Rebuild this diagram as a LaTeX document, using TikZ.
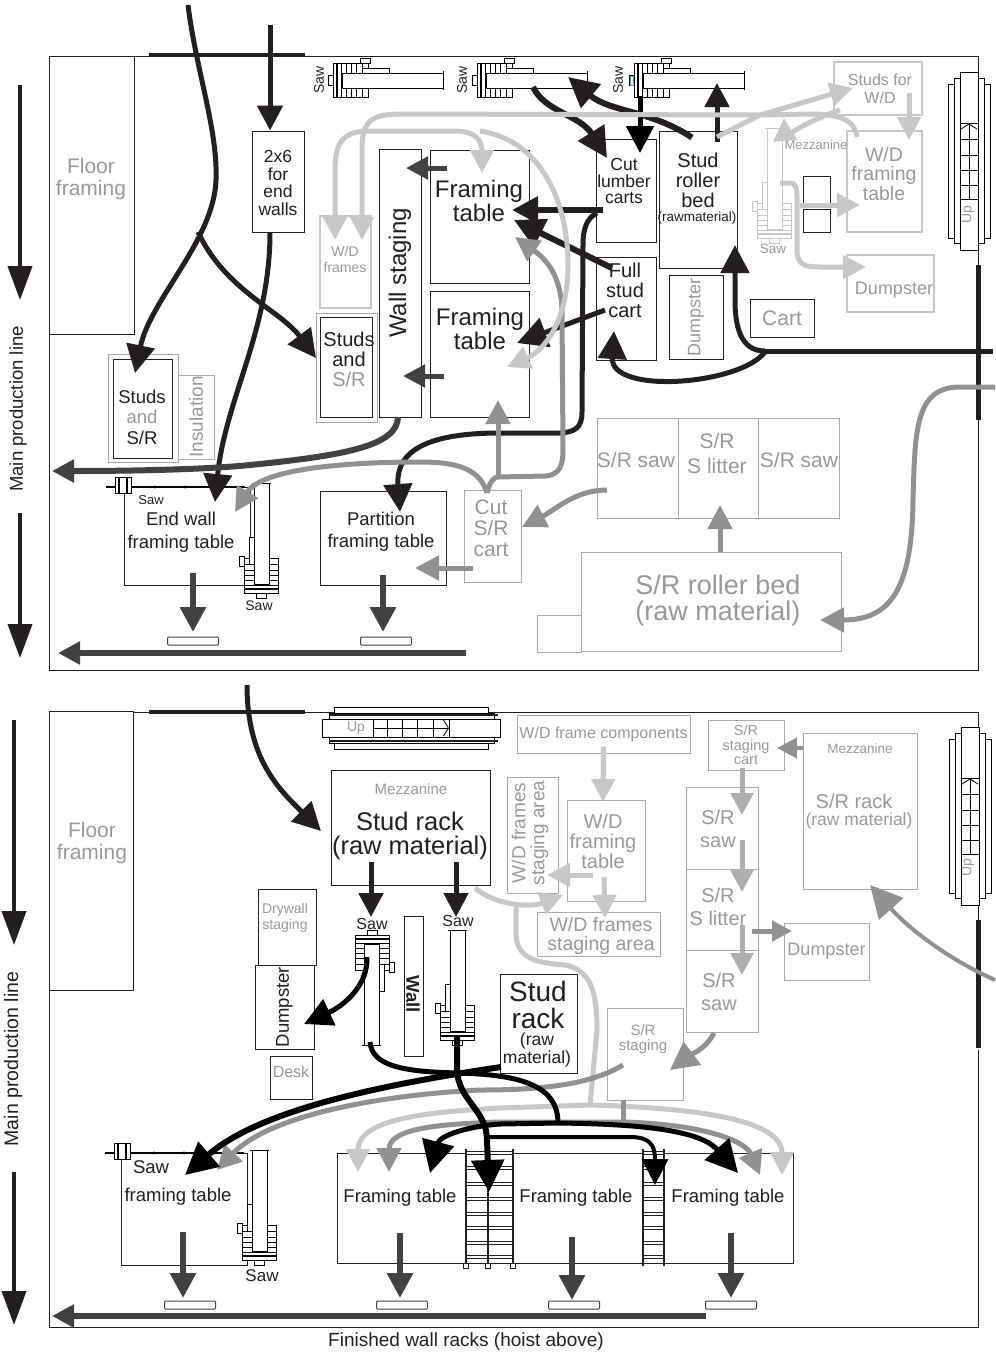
\documentclass[tikz,border=0pt]{standalone}
\usepackage{fontspec}
\setmainfont{Liberation Sans}
\usetikzlibrary{positioning,arrows.meta,calc}
\definecolor{blk}{HTML}{231F20}
\definecolor{drk}{HTML}{414042}
\definecolor{gry}{HTML}{939091}
\definecolor{lgt}{HTML}{C7C7C7}
\definecolor{txtgray}{HTML}{999999}
\definecolor{edge}{HTML}{A9A9A9}
\tikzset{
  wh/.style 2 args={minimum width=#1pt,minimum height=#2pt},
  fs/.style={font=\fontsize{#1}{#1}\selectfont},
  box/.style={draw=blk,line width=1pt,inner sep=0pt,align=center,text=blk,fill=white},
  graybox/.style={box,draw=edge,text=txtgray},
  lightbox/.style={box,draw=lgt,line width=1.2pt,text=txtgray},
  txt/.style={inner sep=0pt,align=center,text=blk},
  graytxt/.style={txt,text=txtgray},
  wallbar/.style={draw=drk,line width=1pt,fill=white,rounded corners=1pt,inner sep=0pt,minimum width=51pt,minimum height=8pt},
  frameline/.style={draw=blk,line width=1pt},
  flow/.style n args={3}{draw=#1,line width=#2pt,-{Triangle[length=#3pt,width=#3pt]}},
  blackflow/.style={flow={blk}{5}{28}},
  bigflow/.style={flow={black}{6}{32}},
  arcflow/.style={flow={black}{5}{32}},
  darkflow/.style={flow={drk}{6}{25}},
  grayflow/.style={flow={gry}{5}{24}},
  lightflow/.style={flow={lgt}{5}{23}},
  prodflow/.style={draw=blk,line width=4pt,-{Triangle[length=34pt,width=24pt]}},
  blackline/.style={draw=blk,line width=5pt},
  grayline/.style={draw=gry,line width=5pt},
  lightline/.style={draw=lgt,line width=5pt},
  sawicon/.pic={
    \draw[line width=.9pt,fill=white] (0,-17) rectangle (35,17);
    \draw[line width=2pt] (4,-17) -- (4,17);
    \foreach \sx in {8,13,18,23,29} \draw[line width=.9pt] (\sx,-17) -- (\sx,17);
    \draw[line width=.9pt,fill=white] (-5,-5) rectangle (0,5);
    \draw[line width=.9pt,fill=white] (29,-12) rectangle (56,-7);
    \draw[line width=.9pt,fill=white] (27,-22) rectangle (37,-17);
    \draw[line width=.9pt,fill=white] (9,-7) rectangle (110,8);
    \draw[line width=.9pt] (110,-9) -- (110,10);
  },
  sawflat/.pic={
    \draw[line width=2.4pt] (-9,0) -- (130,0);
    \draw[line width=.8pt,fill=white] (0,-10) rectangle (16,6);
    \draw[line width=1.6pt] (4,-10) -- (4,6) (12,-10) -- (12,6);
    \foreach \sx in {40,70,100} \fill (\sx,0) circle (1.6pt);
  },
  stairs/.pic={
    \draw[line width=1pt,fill=white] (-21,-77) rectangle (21,77);
    \draw[line width=1pt,fill=white] (-15,-83) rectangle (15,82);
    \draw[line width=1pt,fill=white] (-9,-89) rectangle (9,89);
    \foreach \sy in {-22,-6,9,24,38} \draw[line width=.8pt] (-9,\sy) -- (9,\sy);
    \draw[line width=.8pt] (-9,-38) -- (9,-38) (0,-37) -- (0,38);
    \draw[line width=.8pt] (-8,-32) -- (0,-37) -- (8,-32);
  },
  rung/.style={draw=blk,line width=.9pt,double=white,double distance=1.7pt},
}
\begin{document}
\begin{tikzpicture}[x=1pt,y=-1pt]
  \useasboundingbox (0,0) rectangle (996,1353);

  % upper floor outline
  \draw[frameline] (978,420) -- (978,670) -- (49,670) -- (49,56) -- (978,56) -- (978,72);
  \draw[frameline] (978,250) -- (978,265);
  \draw[blackline] (978,265) -- (978,420);
  \draw[draw=blk,line width=4pt] (149,55) -- (305,55);

  % upper floor, boxes
  \node[graybox,draw=blk,wh={85}{278}] (floorA) at (91.5,195) {};
  \node[graytxt,fs=21] (floorAtxt) at (91,179) {Floor\\[1pt]framing};
  \node[box,fs=17.5,wh={52}{101}] (twobysix) at (278,181.5) {};
  \node[txt,fs=17.5] (twobysixtxt) at (278,183) {2x6\\for\\end\\walls};
  \node[lightbox,wh={51}{92}] (frameW) at (345.5,262) {};
  \node[graytxt,fs=14] (frameWtxt) at (345,259) {W/D\\[2pt]frames};
  \node[graybox,draw=blk,wh={42}{268}] (staging) at (400,283) {};
  \node[txt,fs=24,rotate=90] (stagingtxt) at (400,273) {Wall staging};
  \node[box,wh={99}{133}] (tableA) at (479.5,216.5) {};
  \node[txt,fs=24] (tableAtxt) at (479,201) {Framing\\table};
  \node[box,wh={99}{126}] (tableB) at (479.5,354) {};
  \node[txt,fs=24] (tableBtxt) at (480,329) {Framing\\table};
  \node[box,wh={60}{103}] (cutcart) at (626,190.5) {};
  \node[txt,fs=17.5] (cutcarttxt) at (624,181) {Cut\\[-1pt]lumber\\[-1pt]carts};
  \node[box,wh={78}{137}] (rollerA) at (698,199.5) {};
  \node[txt,fs=20] (rollerAtxt) at (698,180) {Stud\\roller\\bed};
  \node[txt,fs=13.5] (rollerAraw) at (697,218) {(rawmaterial)};
  \node[box,wh={60}{103}] (fullcart) at (626,308.5) {};
  \node[txt,fs=20] (fullcarttxt) at (625,290) {Full\\stud\\cart};
  \node[graybox,draw=blk,fs=18,wh={54}{84}] (dumpA) at (696,317) {\rotatebox{90}{Dumpster}};
  \node[graybox,draw=blk,fs=21,wh={64}{38}] (cartA) at (782,318) {Cart};
  \node[draw=edge,line width=1pt,wh={61}{109},inner sep=0pt] (studsBout) at (346.5,367.5) {};
  \node[graybox,draw=blk,wh={52}{100}] (studsB) at (346,367) {};
  \node[txt,fs=20] (studsBtxt) at (349,359) {Studs\\and\\\textcolor{txtgray}{S/R}};
  \node[draw=edge,line width=1pt,wh={70}{108},inner sep=0pt] (studsAout) at (143,408) {};
  \node[box,wh={59}{99}] (studsA) at (142.5,408.5) {};
  \node[txt,fs=18.5,text=txtgray] (studsAtxt) at (142,417) {\textcolor{blk}{Studs}\\[2pt]and\\[2pt]\textcolor{blk}{S/R}};
  \node[graybox,fs=19,wh={36}{84}] (insul) at (196,417) {\rotatebox{90}{Insulation}};
  \node[lightbox,wh={88}{53}] (studsW) at (878,88.5) {};
  \node[graytxt,fs=16] (studsWtxt) at (880,89) {Studs for\\[2pt]W/D};
  \node[lightbox,wh={75}{101}] (tableW) at (884.5,181.5) {};
  \node[graytxt,fs=19.5] (tableWtxt) at (884,174) {W/D\\framing\\table};
  \node[lightbox,wh={87}{57}] (dumpB) at (890.5,283.5) {};
  \node[graytxt,fs=18] (dumpBtxt) at (894,290) {Dumpster};
  \node[box,wh={27}{27}] (blockA) at (816.5,189.5) {};
  \node[box,wh={27}{23}] (blockB) at (816.5,220.5) {};
  \node[graybox,wh={81}{100}] (sawA) at (637.5,468) {};
  \node[graytxt,fs=21] (sawAtxt) at (636,460) {S/R saw};
  \node[graybox,wh={80}{100}] (litterA) at (718,468) {};
  \node[graytxt,fs=21] (litterAtxt) at (717,453) {S/R\\[4pt]S litter};
  \node[graybox,wh={81}{100}] (sawB) at (798.5,468) {};
  \node[graytxt,fs=21] (sawBtxt) at (799,460) {S/R saw};
  \node[graybox,wh={260}{99}] (rollerB) at (711,601.5) {};
  \node[graytxt,fs=27] (rollerBtxt) at (718,601) {S/R roller bed\\[-1pt](raw material)};
  \node[graybox,wh={44}{37}] (spareA) at (559,633.5) {};
  \node[graybox,wh={57}{92}] (cutSR) at (492.5,536) {};
  \node[graytxt,fs=21] (cutSRtxt) at (491,528) {Cut\\S/R\\cart};
  \node[box,wh={126}{98}] (endtableA) at (187,536) {};
  \node[txt,fs=18.5] (endtableAtxt) at (181,532) {End wall\\[4pt]framing table};
  \node[box,wh={126}{94}] (partition) at (383,538) {};
  \node[txt,fs=18.5] (partitiontxt) at (381,531.5) {Partition\\[4pt]framing table};
  \node[wallbar] (wallA) at (193,641) {};
  \node[wallbar] (wallB) at (386,641) {};

  % upper floor, saws and stairs
  \pic at (333,80) {sawicon};
  \pic at (477,80) {sawicon};
  \pic at (634,80) {sawicon};
  \draw[draw=teal!70,line width=1pt] (630,76) rectangle (633,85);
  \pic at (261,593) [rotate=90] {sawicon};
  \pic at (115,487) {sawflat};
  \pic[color=lgt] at (774,238) [rotate=90] {sawicon};
  \pic at (969,161) {stairs};
  \node[txt,fs=14,rotate=90] (sawtxtA) at (319,80) {Saw};
  \node[txt,fs=14,rotate=90] (sawtxtB) at (462,80) {Saw};
  \node[txt,fs=14,rotate=90] (sawtxtC) at (618,80) {Saw};
  \node[txt,fs=13] (sawtxtD) at (151,500) {Saw};
  \node[txt,fs=14] (sawtxtE) at (259,606) {Saw};
  \node[graytxt,fs=13.5] (sawtxtF) at (773,249) {Saw};
  \node[graytxt,fs=13] (mezzA) at (816,145) {Mezzanine};
  \node[graytxt,fs=14,rotate=90] (upA) at (968,215) {Up};

  % upper floor, named ends
  \coordinate (inA) at (188,5);
  \coordinate (inB) at (270,25);
  \coordinate (forkA) at (198,232);
  \coordinate (studsAin) at (135,373);
  \coordinate (studsBin) at (316,358);
  \coordinate (endtableAin) at (215,502);
  \coordinate (endtableAgray) at (235,512);
  \coordinate (partitionin) at (400,512);
  \coordinate (cutcartin) at (607,158);
  \coordinate (feedA) at (993,351);
  \coordinate (feedAfork) at (765,351);
  \coordinate (feedB) at (995,387);
  \coordinate (forkB) at (498,477);
  \coordinate (lightA) at (760,115);
  \coordinate (outA) at (466,653);
  \coordinate (outAtip) at (58,653);

  % upper floor, black lumber
  \draw[blackflow] (inA) .. controls (196,70) and (218,130) .. (216,180) .. controls (214,240) and (150,300) .. (studsAin);
  \draw[blackflow] (forkA) .. controls (225,290) and (280,310) .. (studsBin);
  \draw[flow={blk}{5}{25}] (inB) -- (inB |- twobysix.north);
  \draw[blackflow] (inB |- twobysix.south) .. controls (270,330) and (225,400) .. (endtableAin);
  \draw[flow={blk}{6}{30}] (533,87) .. controls (545,112) and (580,115) .. (cutcartin);
  \draw[flow={blk}{6}{30}] (rollerA.north) ++(-6,7) .. controls (650,110) and (610,112) .. (568,77);
  \draw[flow={black}{5}{27}] (640,96) -- (640,153);
  \draw[flow={blk}{5}{24}] (717,142) -- (717,83);
  \draw[flow={blk}{6}{26}] (603,210) -- (512,210);
  \draw[flow={blk}{6}{30}] (612,268) -- (514,220);
  \draw[flow={blk}{5}{30}] (605,310) -- (517,343);
  \draw[blackflow] (597,213) .. controls (587,218) and (583,228) .. (583,245) -- (582,412) .. controls (582,428) and (575,432) .. (560,433) -- (500,433) .. controls (440,433) and (395,445) .. (partitionin);
  \draw[blackline] (feedA) -- (feedAfork);
  \draw[blackflow] (feedAfork) .. controls (745,351) and (735,335) .. (735,300) -- (735,245);
  \draw[blackflow] (feedAfork) ++(0,1) .. controls (740,385) and (610,395) .. (614,331);

  % upper floor, dark stubs
  \draw[flow={drk}{5}{22}] (447,168) -- (406,168);
  \draw[flow={drk}{5}{22}] (444,376) -- (403,376);
  \draw[flow={drk}{6}{22}] (398,417) .. controls (397,445) and (350,455) .. (250,465) .. controls (200,470) and (120,471) .. (52,471);
  \draw[darkflow] (193,573) -- (193,632);
  \draw[darkflow] (383,575) -- (383,632);
  \draw[flow={drk}{6}{22}] (outA) -- (outAtip);

  % upper floor, gray
  \draw[grayflow] (487,493) .. controls (480,470) and (460,462) .. (420,462) .. controls (350,462) and (262,468) .. (endtableAgray);
  \draw[grayline] (487,493) .. controls (490,480) and (495,477) .. (forkB);
  \draw[grayflow] (forkB) -- (498,400);
  \draw[grayflow] (forkB) -- (545,476) .. controls (560,475) and (563,465) .. (563,450) -- (562,310) .. controls (561,280) and (550,262) .. (515,237);
  \draw[grayflow] (607,490) .. controls (575,490) and (555,510) .. (522,527);
  \draw[grayflow] (720,552) -- (720,505);
  \draw[grayflow] (473,568) -- (415,568);
  \draw[grayflow] (feedB) -- (960,387) .. controls (915,387) and (915,430) .. (913,500) .. controls (912,590) and (890,620) .. (820,620);

  % upper floor, light
  \draw[lightflow] (480,131) .. controls (540,140) and (568,200) .. (568,265) .. controls (568,320) and (545,350) .. (507,367);
  \draw[draw=lgt,line width=5pt,{Triangle[length=23pt,width=23pt]}-{Triangle[length=23pt,width=23pt]}] (335,240) -- (335,170) .. controls (335,140) and (345,131) .. (370,131) -- (455,131) .. controls (475,131) and (482,140) .. (482,173);
  \draw[lightflow] (lightA) -- (400,114) .. controls (367,114) and (362,125) .. (362,150) -- (362,240);
  \draw[lightline] (lightA) -- (810,114) .. controls (840,114) and (855,120) .. (857,137);
  \draw[lightflow] (717,137) -- (lightA) -- (853,88);
  \draw[lightflow] (840,110) .. controls (810,120) and (785,135) .. (784,118);
  \draw[lightflow] (909,93) -- (909,140);
  \draw[lightflow] (800,205) -- (860,205);
  \draw[lightflow] (780,183) -- (790,183) .. controls (797,183) and (797,190) .. (797,200) -- (797,250) .. controls (797,265) and (805,267) .. (820,267) -- (866,267);

  % upper production line
  \draw[prodflow] (20,85) -- (20,300);
  \node[txt,fs=18.5,rotate=90] (prodA) at (18,409) {Main production line};
  \draw[prodflow] (20,513) -- (20,658);

  % lower floor outline
  \draw[frameline] (978,1050) -- (978,1327) -- (49,1327) -- (49,712) -- (978,712) -- (978,730);
  \draw[frameline] (978,900) -- (978,920);
  \draw[blackline] (978,920) -- (978,1048);
  \draw[draw=blk,line width=4pt] (149,712) -- (305,712);

  % lower floor, boxes
  \node[graybox,draw=blk,wh={84}{279}] (floorB) at (91,850.5) {};
  \node[graytxt,fs=21] (floorBtxt) at (92,843) {Floor\\[1pt]framing};
  \node[box,wh={159}{115}] (rackA) at (410.5,827.5) {};
  \node[graytxt,fs=15] (mezzB) at (411,789) {Mezzanine};
  \node[txt,fs=25.5] (rackAtxt) at (410,836) {Stud rack\\[-1pt](raw material)};
  \node[graybox,draw=blk,wh={58}{76}] (drywall) at (287,927) {};
  \node[graytxt,fs=14] (drywalltxt) at (285,918) {Drywall\\[2pt]staging};
  \node[box,fs=18.5,text=blk,wh={59}{84}] (dumpC) at (284.5,1007) {\rotatebox{90}{Dumpster}};
  \node[graybox,draw=blk,wh={42}{43}] (desk) at (291,1077.5) {};
  \node[graytxt,fs=16] (desktxt) at (291,1072) {Desk};
  \node[graybox,draw=blk,wh={19}{140}] (wallbig) at (413.5,986) {};
  \node[txt,fs=18.5,rotate=-90] (wallbigtxt) at (413,994) {\textbf{Wall}};
  \node[box,wh={77}{99}] (rackB) at (538.5,1023.5) {};
  \node[txt,fs=28] (rackBtxt) at (538,1005) {Stud\\[-1pt]rack};
  \node[txt,fs=17.5] (rackBraw) at (537,1050) {(raw\\material)};
  \node[graybox,wh={51}{116}] (framesW) at (532.5,835) {};
  \node[graytxt,fs=19,rotate=90] (framesWtxt) at (530,833) {W/D frames\\staging area};
  \node[graybox,wh={78}{101}] (tableX) at (606,850.5) {};
  \node[graytxt,fs=20] (tableXtxt) at (603,841) {W/D\\framing\\table};
  \node[graybox,fs=16,wh={173}{38}] (compW) at (603.5,734) {W/D frame components};
  \node[graybox,wh={123}{44}] (frameSt) at (598.5,934) {};
  \node[graytxt,fs=19.5] (frameSttxt) at (601,936) {W/D frames\\staging area};
  \node[graybox,fs=14.5,wh={76}{50}] (cartSR) at (746,745) {S/R\\staging\\cart};
  \node[graybox,wh={114}{156}] (rackC) at (860,811) {};
  \node[graytxt,fs=13.5] (mezzC) at (860,749) {Mezzanine};
  \node[graytxt,fs=20] (rackCtxt) at (854,801) {S/R rack};
  \node[graytxt,fs=17.5] (rackCraw) at (859,821) {(raw material)};
  \node[graybox,wh={72}{82}] (sawC) at (722,828) {};
  \node[graytxt,fs=20] (sawCtxt) at (718,829) {S/R\\[3pt]saw};
  \node[graybox,wh={72}{81}] (litterB) at (722,909.5) {};
  \node[graytxt,fs=20] (litterBtxt) at (718,907) {S/R\\[3pt]S litter};
  \node[graybox,wh={72}{82}] (sawD) at (722,991) {};
  \node[graytxt,fs=20] (sawDtxt) at (719,992) {S/R\\[3pt]saw};
  \node[graybox,fs=18,wh={85}{57}] (dumpD) at (826.5,951.5) {Dumpster};
  \node[graybox,wh={76}{92}] (stagingSR) at (645,1054) {};
  \node[graytxt,fs=15] (stagingSRtxt) at (643,1039) {S/R\\staging};
  \node[box,wh={126}{112}] (endtableB) at (184,1209) {};
  \node[txt,fs=18.5] (sawtxtG) at (151,1167) {Saw};
  \node[txt,fs=18.5] (endtableBtxt) at (178,1197) {framing table};
  \node[box,wh={456}{110}] (tables) at (565,1208) {};
  \node[txt,fs=18.5] (tablesA) at (400,1198) {Framing table};
  \node[txt,fs=18.5] (tablesB) at (576,1198) {Framing table};
  \node[txt,fs=18.5] (tablesC) at (728,1198) {Framing table};
  \node[wallbar] (wallC) at (190,1305) {};
  \node[wallbar] (wallD) at (402,1305) {};
  \node[wallbar] (wallE) at (574,1305) {};
  \node[wallbar] (wallF) at (731,1305) {};

  % lower floor, saws and stairs and racks
  \pic at (372,935) [rotate=-90] {sawicon};
  \pic at (457,1040) [rotate=90] {sawicon};
  \pic at (259,1260) [rotate=90] {sawicon};
  \pic at (114,1153) {sawflat};
  \pic at (970,816) {stairs};
  \pic at (411.5,728) [rotate=-90] {stairs};
  \draw[draw=blk,line width=2.2pt] (329,715) -- (498,715) (329,741) -- (498,741);
  \foreach \ry in {1153,1168,1184,1199,1214,1228,1243,1257} {
    \draw[rung] (465,\ry) -- (514,\ry);
    \draw[rung] (642,\ry) -- (665,\ry);
  }
  \foreach \rx in {466,488,513,643,664} \draw[draw=blk,line width=1.8pt] (\rx,1149) -- (\rx,1266);
  \foreach \rx in {466,488,513} \draw[draw=blk,line width=1pt,fill=white] (\rx-2.5,1263) rectangle (\rx+2.5,1268);
  \node[txt,fs=16] (sawtxtH) at (372,924) {Saw};
  \node[txt,fs=16] (sawtxtI) at (458,921) {Saw};
  \node[txt,fs=17] (sawtxtJ) at (262,1276) {Saw};
  \node[graytxt,fs=14] (upB) at (356,728) {Up};
  \node[graytxt,fs=14,rotate=90] (upC) at (968,868) {Up};

  % lower floor, named ends
  \coordinate (inC) at (247,685);
  \coordinate (arcL) at (590,1105);
  \coordinate (arcG) at (623,1122);
  \coordinate (arcB) at (558,1123);
  \coordinate (feedC) at (995,980);
  \coordinate (outB) at (706,1316);
  \coordinate (outBtip) at (52,1316);

  % lower floor, light
  \draw[lightflow] (compW.south) ++(0,-7) -- (603,802);
  \draw[lightflow] (604,877) -- (605,918);
  \draw[lightflow] (593,875) -- (547,875);
  \draw[lightflow] (475,888) .. controls (495,905) and (530,908) .. (563,895);
  \draw[lightline] (516,902) -- (516,935) .. controls (517,960) and (540,963) .. (565,965) .. controls (590,970) and (597,990) .. (597,1030) -- (arcL);
  \draw[lightflow] (arcL) -- (500,1108) .. controls (430,1112) and (358,1118) .. (358,1172);
  \draw[lightflow] (arcL) .. controls (700,1108) and (782,1120) .. (782,1175);

  % lower floor, gray
  \draw[flow={gry}{4}{20}] (803,748) -- (777,748);
  \draw[flow={gry!120!black}{5}{22}] (742,768) -- (742,815);
  \draw[flow={gry!120!black}{5}{22}] (742,840) -- (742,892);
  \draw[flow={gry!120!black}{5}{22}] (742,925) -- (742,975);
  \draw[flow={gry}{5}{20}] (752,931) -- (792,931);
  \draw[flow={gry}{5}{28}] (714,1033) .. controls (705,1050) and (690,1055) .. (670,1070);
  \draw[flow={gry}{4}{32}] (feedC) .. controls (950,960) and (910,930) .. (870,885);
  \draw[grayflow] (623,1065) .. controls (590,1085) and (540,1090) .. (480,1090) .. controls (380,1095) and (270,1115) .. (217,1170);
  \draw[grayline] (623,1100) -- (arcG);
  \draw[grayflow] (arcG) -- (500,1122) .. controls (440,1124) and (389,1128) .. (389,1172);
  \draw[grayflow] (arcG) .. controls (700,1124) and (745,1140) .. (760,1175);

  % lower floor, black
  \draw[blackflow] (inC) .. controls (247,760) and (280,790) .. (321,831);
  \draw[flow={blk}{5}{24}] (371,862) -- (371,917);
  \draw[flow={blk}{5}{24}] (456,862) -- (456,917);
  \draw[flow={black}{5}{28}] (367,957) .. controls (368,985) and (345,1005) .. (304,1024);
  \draw[draw=black,line width=5pt] (370,1042) .. controls (372,1065) and (400,1072) .. (460,1073) .. controls (520,1075) and (558,1085) .. (arcB);
  \draw[bigflow] (501,1067) .. controls (380,1085) and (260,1110) .. (185,1175);
  \draw[bigflow] (457,1035) -- (457,1070) .. controls (458,1100) and (487,1110) .. (487,1140) -- (489,1192);
  \draw[arcflow] (arcB) -- (500,1124) .. controls (470,1126) and (440,1135) .. (430,1173);
  \draw[arcflow] (arcB) .. controls (640,1124) and (700,1130) .. (738,1173);
  \draw[flow={black}{4}{26}] (487,1137) -- (630,1137) .. controls (650,1137) and (655,1145) .. (655,1185);

  % lower floor, out to the racks
  \draw[darkflow] (183,1232) -- (183,1298);
  \draw[darkflow] (400,1233) -- (400,1298);
  \draw[darkflow] (572,1237) -- (572,1300);
  \draw[darkflow] (731,1233) -- (731,1298);
  \draw[flow={drk}{6}{22}] (outB) -- (outBtip);

  % lower production line
  \draw[prodflow] (14,720) -- (14,945);
  \node[txt,fs=19.5,rotate=90] (prodB) at (13,1059) {Main production line};
  \draw[prodflow] (14,1172) -- (14,1325);
  \node[txt,fs=19] (caption) at (466,1342) {Finished wall racks (hoist above)};
\end{tikzpicture}
\end{document}
